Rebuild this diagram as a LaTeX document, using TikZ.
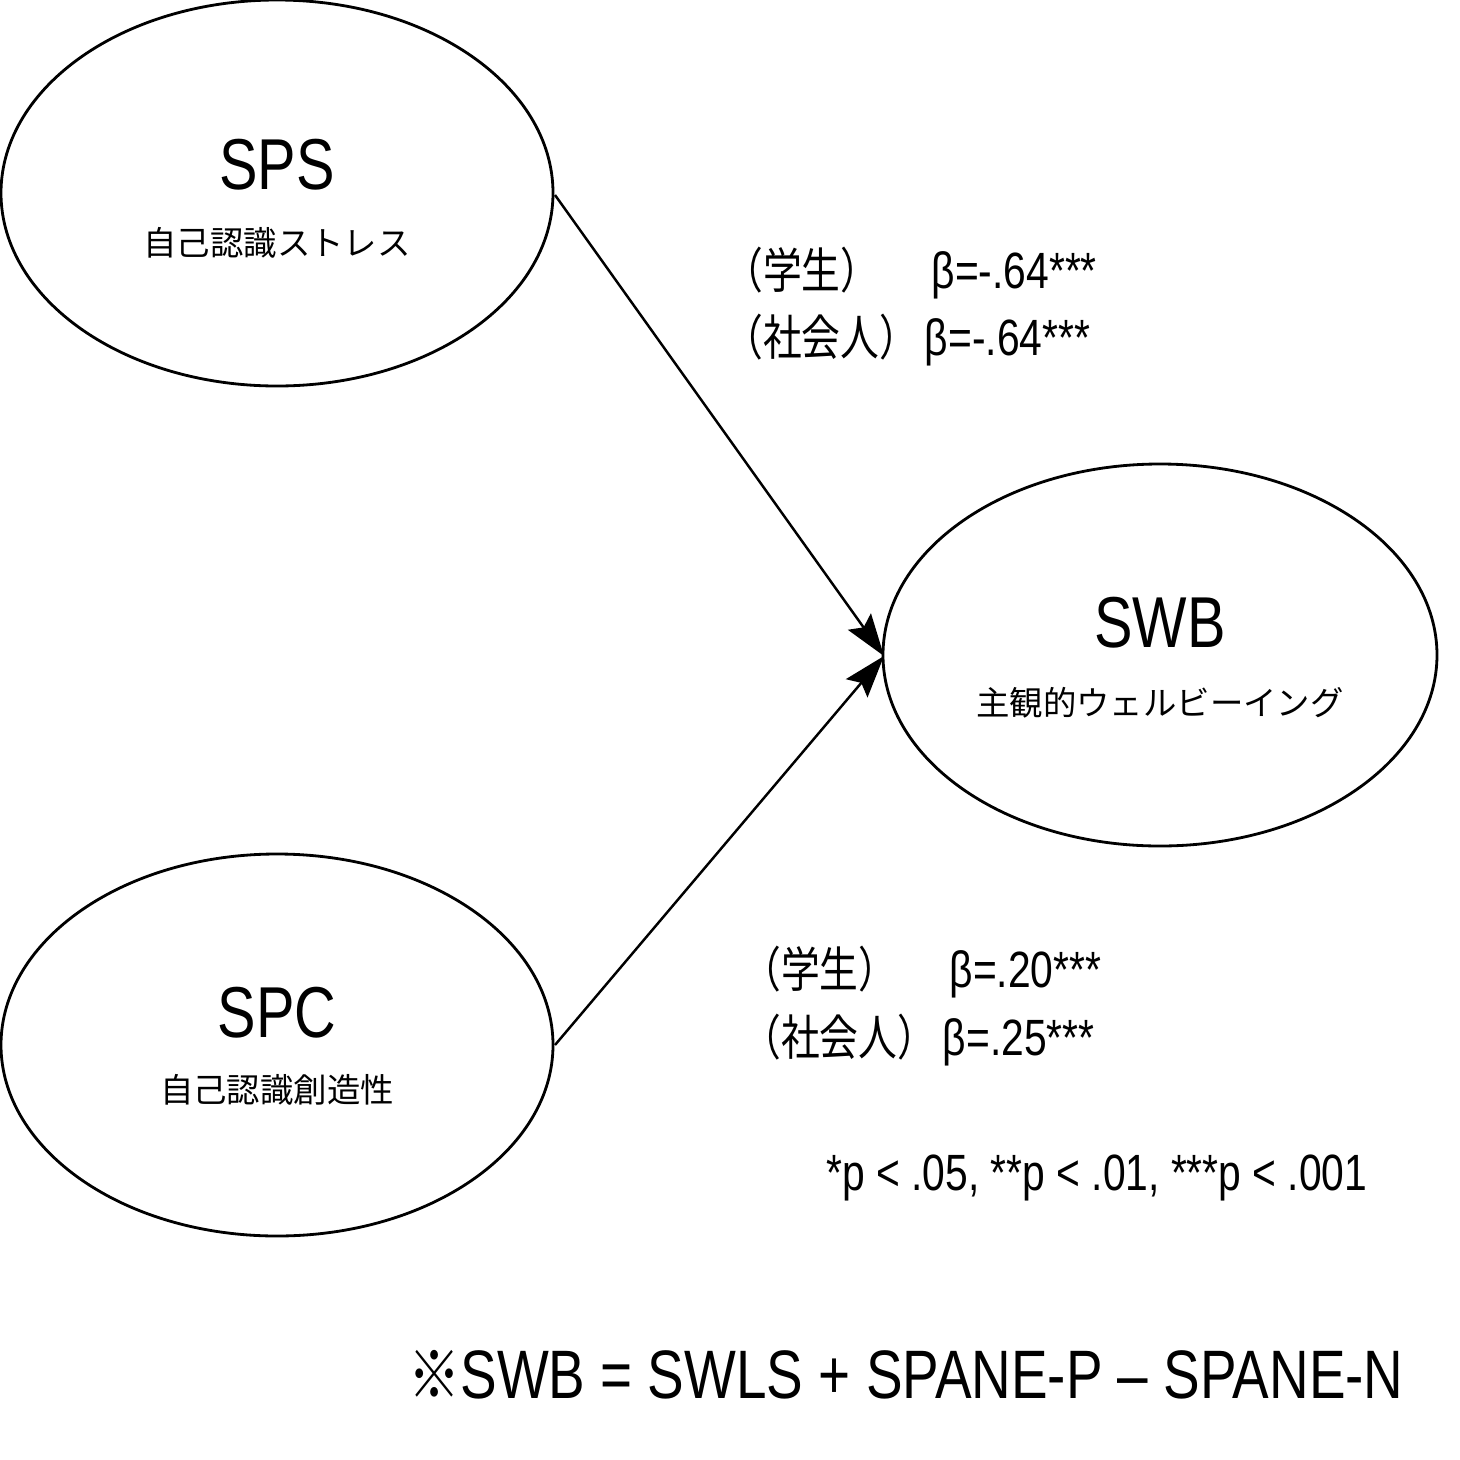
\documentclass[tikz,border=0pt]{standalone}
\usepackage{fontspec}
\setmainfont{Liberation Sans}
\newfontfamily\cjk{Noto Sans CJK JP}[Scale=0.95]
\usetikzlibrary{arrows.meta}
\newcommand{\nar}[1]{\scalebox{0.8}[1]{#1}}
\begin{document}
\begin{tikzpicture}[x=0.01cm,y=-0.01cm,
  conn/.style={line width=0.7pt,-{Stealth[length=12pt,width=8pt,inset=2pt]}},
  big/.style={font=\fontsize{20.5}{24}\selectfont},
  sub/.style={font=\cjk\fontsize{10}{12}\selectfont},
  lab/.style={font=\fontsize{14.5}{20}\selectfont,anchor=west}]
\useasboundingbox (0,0) rectangle (1460,1460);
\draw[line width=0.8pt] (277,193) ellipse (276 and 193);
\draw[line width=0.8pt] (1160,655) ellipse (277 and 191);
\draw[line width=0.8pt] (277,1045) ellipse (276 and 191);
\coordinate (a) at (555,195);
\coordinate (c) at (555,1045);
\coordinate (b) at (884,656);
\draw[conn] (a) -- (b);
\draw[conn] (c) -- (b);
\node[big] (t1) at (277,165) {\nar{SPS}};
\node[sub] (s1) at (277,243) {自己認識ストレス};
\node[big] (t2) at (1160,623) {\nar{SWB}};
\node[sub] (s2) at (1160,703) {主観的ウェルビーイング};
\node[big] (t3) at (277,1013) {\nar{SPC}};
\node[sub] (s3) at (277,1090) {自己認識創造性};
\node[lab] (l1) at (712,273) {\nar{{\cjk （学生）}\quad\ β=-.64***}};
\node[lab] (l2) at (712,340) {\nar{{\cjk （社会人）}\,β=-.64***}};
\node[lab] (l3) at (730,972) {\nar{{\cjk （学生）}\quad\ β=.20***}};
\node[lab] (l4) at (730,1040) {\nar{{\cjk （社会人）}\,β=.25***}};
\node[lab] (fn) at (814,1178) {\nar{*p < .05, **p < .01, ***p < .001}};
\node[font=\fontsize{19.5}{24}\selectfont] (eq) at (906,1375) {\nar{{\cjk ※}SWB = SWLS + SPANE-P – SPANE-N}};
\end{tikzpicture}
\end{document}
